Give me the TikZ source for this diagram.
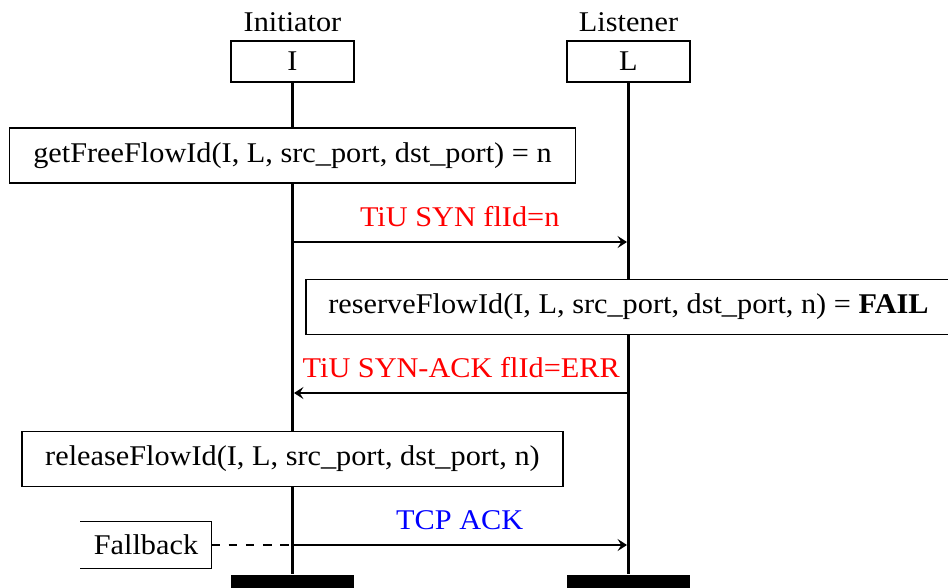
\documentclass[tikz,border=0pt]{standalone}
\usepackage{fontspec}
\setmainfont{Liberation Serif}[FakeStretch=1.06]
\usetikzlibrary{arrows.meta}
\begin{document}
\begin{tikzpicture}[x=0.35pt,y=-0.35pt,
  inst/.style={draw,line width=0.6pt,minimum width=43.05pt,minimum height=14.35pt,inner sep=0pt},
  bar/.style={fill=black,draw=none,minimum width=43.05pt,minimum height=7pt,inner sep=0pt},
  life/.style={line width=0.8pt},
  action/.style={draw,fill=white,line width=0.6pt,minimum height=19.25pt,inner xsep=4.2pt,inner ysep=0pt},
  msg/.style={line width=0.6pt,-{Stealth[length=3.3pt,width=4.2pt,inset=1.3pt]}},
  msglabel/.style={above,inner sep=0pt,yshift=5pt},
  tiu/.style={text=red},
  tcp/.style={text=blue}]
\useasboundingbox (0,0) rectangle (948,587);

% instances
\node[anchor=base] (Iname) at (292.5,31) {Initiator};
\node[anchor=base] (Lname) at (628.5,31) {Listener};
\node[inst] (I) at (292.5,61.5) {I};
\node[inst] (L) at (628.5,61.5) {L};
\node[bar] (Iend) at (292.5,585) {};
\node[bar] (Lend) at (628.5,585) {};

% lifelines
\draw[life] (I.south) -- (Iend.north);
\draw[life] (L.south) -- (Lend.north);

% actions
\node[action,minimum width=198.1pt] (get) at (292.5,155.5) {getFreeFlowId(I, L, src\_port, dst\_port) = n};
\node[action,minimum width=226pt] (res) at (628.5,307) {reserveFlowId(I, L, src\_port, dst\_port, n) = \textbf{FAIL}};
\node[action,minimum width=189.35pt] (rel) at (292.5,459) {releaseFlowId(I, L, src\_port, dst\_port, n)};

% messages
\coordinate (m1a) at (292.5,242);
\coordinate (m1b) at (627,242);
\draw[msg] (m1a) -- node[msglabel,tiu] {TiU SYN flId=n} (m1b);

\coordinate (m2a) at (628.5,393);
\coordinate (m2b) at (294,393);
\draw[msg] (m2a) -- node[msglabel,tiu] {TiU SYN-ACK flId=ERR} (m2b);

% fallback
\node[minimum width=45.5pt,minimum height=16.1pt,inner sep=0pt] (fb) at (146,545) {Fallback};
\draw[line width=0.6pt] (fb.north west) -- (fb.north east) -- (fb.south east) -- (fb.south west);
\coordinate (m3a) at (292.5,545);
\coordinate (m3b) at (627,545);
\draw[line width=0.6pt,dashed] (fb.east) -- (m3a);
\draw[msg] (m3a) -- node[msglabel,tcp] {TCP ACK} (m3b);
\end{tikzpicture}
\end{document}
